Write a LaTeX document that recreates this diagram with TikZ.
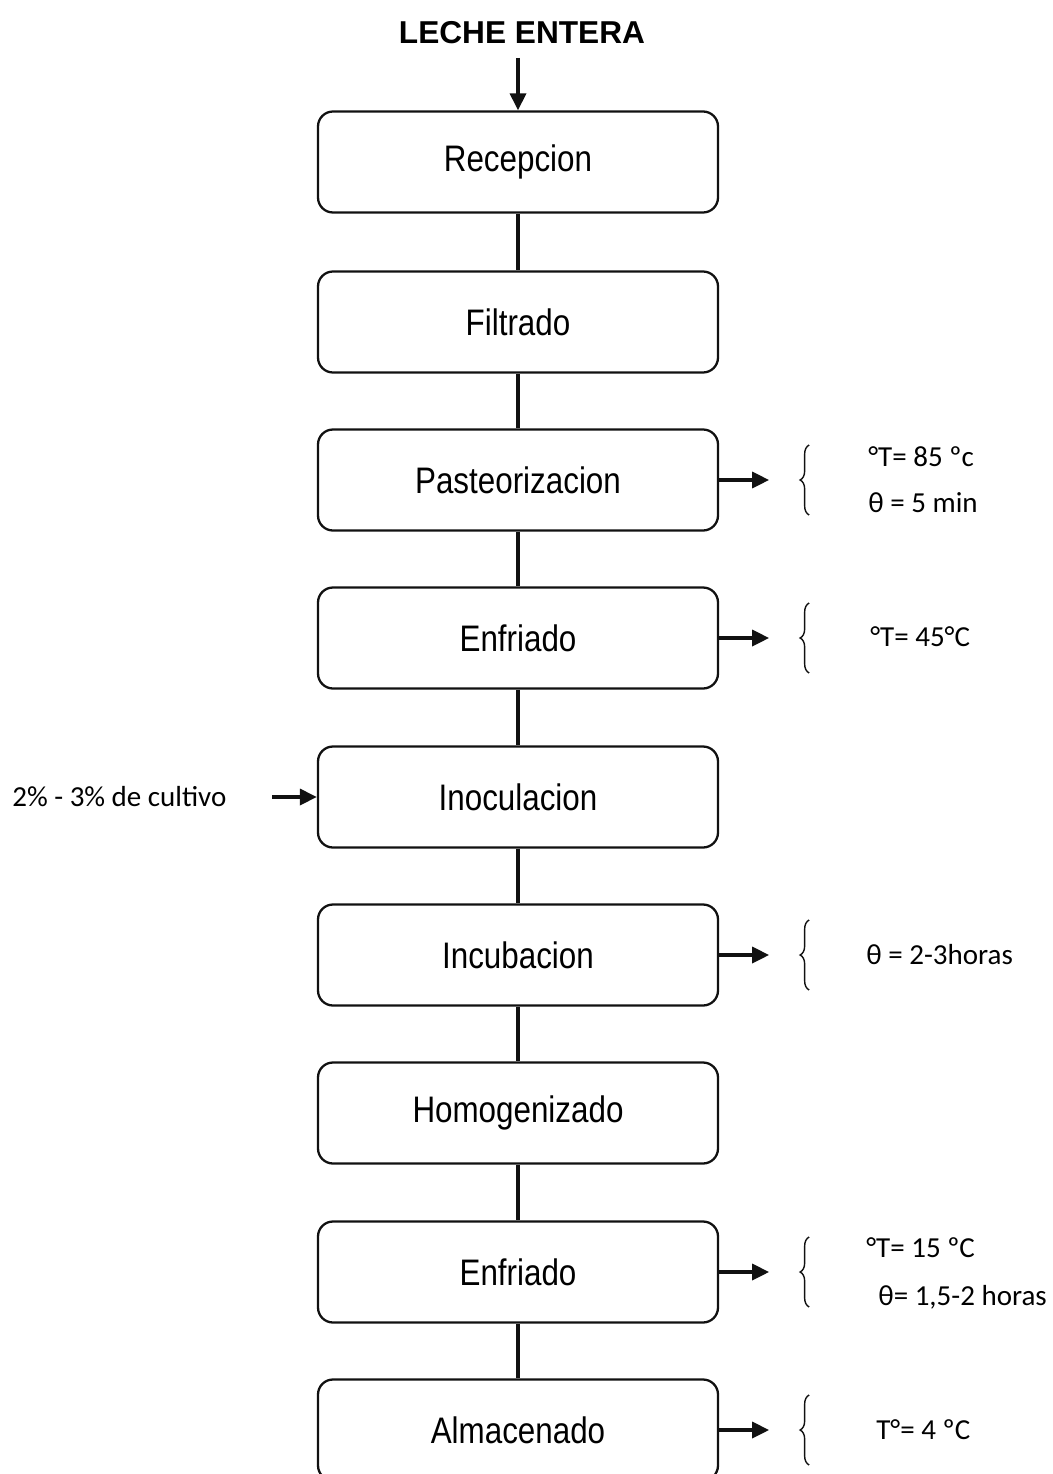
\documentclass[tikz,border=0pt]{standalone}
\usepackage{fontspec}
\usepackage{tikz}
\usetikzlibrary{arrows.meta,decorations.pathreplacing}
\setmainfont{Carlito}
\newfontfamily\boxfont[FakeStretch=0.85]{Liberation Sans}
\newfontfamily\titlefont{Liberation Sans}
\definecolor{inkc}{HTML}{111111}

\begin{document}
\begin{tikzpicture}[
  etapa/.style={draw=inkc, line width=1.3pt, rounded corners=0.3cm, minimum width=8cm, minimum height=2.02cm, font=\boxfont\fontsize{21}{25}\selectfont},
  flecha/.style={-{Triangle[length=0.34cm,width=0.32cm]}, line width=1.9pt, inkc},
  union/.style={line width=1.9pt, inkc},
  llave/.style={decorate, decoration={brace,amplitude=0.18cm}, line width=0.8pt, inkc},
  dato/.style={anchor=west, inner sep=0pt, font=\fontsize{16.5}{20}\selectfont}
]
  \useasboundingbox (0,0) rectangle (21.04,-29.48);
  \node[font=\titlefont\bfseries\fontsize{18}{21}\selectfont] (titulo) at (10.44,-0.66) {LECHE ENTERA};
  \node[etapa] (recep) at (10.36,-3.24) {Recepcion};
  \node[etapa] (filt) at (10.36,-6.44) {Filtrado};
  \node[etapa] (past) at (10.36,-9.60) {Pasteorizacion};
  \node[etapa] (enf) at (10.36,-12.76) {Enfriado};
  \node[etapa] (inoc) at (10.36,-15.94) {Inoculacion};
  \node[etapa] (incu) at (10.36,-19.10) {Incubacion};
  \node[etapa] (homo) at (10.36,-22.26) {Homogenizado};
  \node[etapa] (enfb) at (10.36,-25.44) {Enfriado};
  \node[etapa] (alma) at (10.36,-28.60) {Almacenado};
  % entrada de leche y cultivo
  \coordinate (entrada) at (10.36,-1.16);
  \draw[flecha] (entrada) -- (recep.north);
  \node[dato] (cult) at (0.24,-15.94) {2\% - 3\% de cultivo};
  \coordinate (cultfin) at (5.44,-15.94);
  \draw[flecha] (cultfin) -- (inoc.west);
  \foreach \a/\b in {recep/filt, filt/past, past/enf, enf/inoc, inoc/incu, incu/homo, homo/enfb, enfb/alma}
    \draw[union] (\a) -- (\b);
  % condiciones de cada etapa
  \foreach \n in {past, enf, incu, enfb, alma} {
    \draw[flecha] (\n.east) -- ++(1,0);
    \draw[llave] ([xshift=1.8cm,yshift=-0.7cm]\n.east) -- ([xshift=1.8cm,yshift=0.7cm]\n.east);
  }
  \node[dato] (pastT) at (17.36,-9.14) {°T= 85 ºc};
  \node[dato] (pastTh) at (17.36,-10.06) {θ = 5 min};
  \node[dato] (enfT) at (17.40,-12.74) {°T= 45°C};
  \node[dato] (incuTh) at (17.32,-19.10) {θ = 2-3horas};
  \node[dato] (enfbT) at (17.32,-24.96) {°T= 15 ºC};
  \node[dato] (enfbTh) at (17.56,-25.94) {θ= 1,5-2 horas};
  \node[dato] (almaT) at (17.52,-28.60) {T°= 4 ºC};
\end{tikzpicture}
\end{document}
